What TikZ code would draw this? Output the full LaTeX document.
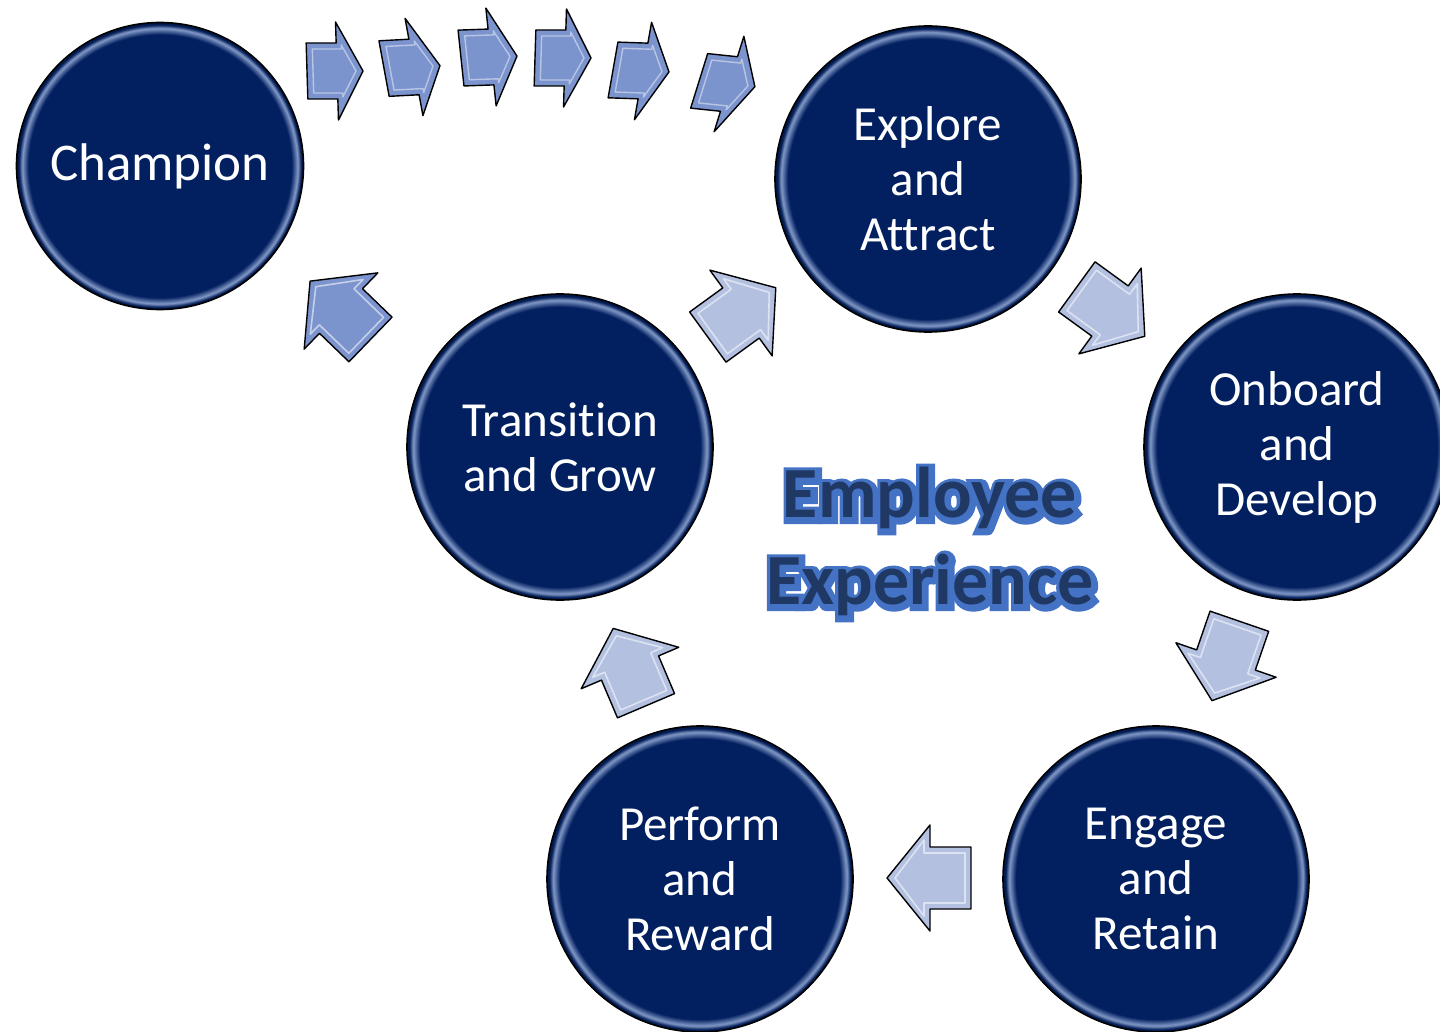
\documentclass[tikz,border=0pt]{standalone}
\usepackage{fontspec}
\setmainfont{Carlito}[Ligatures={CommonOff,ContextualOff}, RawFeature={-liga;-clig;-calt}]
\newfontfamily\titleedge{Carlito Bold}[FakeBold=14, Ligatures={CommonOff,ContextualOff}]
\usetikzlibrary{positioning}
\definecolor{navy}{HTML}{022060}
\definecolor{rim}{HTML}{A3B8E2}
\definecolor{pale}{HTML}{B3C0E0}
\definecolor{cobalt}{HTML}{7C94CE}
\definecolor{inkblue}{HTML}{1F3864}
\definecolor{outl}{HTML}{4472C4}
\pgfdeclareradialshading{bead}{\pgfpoint{0bp}{0bp}}{%
  color(0bp)=(navy); color(22.9bp)=(navy); color(24bp)=(rim!80!navy);
  color(24.6bp)=(navy!90!black); color(25bp)=(navy!75!black); color(50bp)=(navy!75!black)}
\tikzset{
  pics/bigarr/.style={code={
    \path[draw=black, line width=1.4pt, line join=round, fill=#1]
      (-41,-31) -- (0,-31) -- (0,-53) -- (43,0) -- (0,53) -- (0,31) -- (-41,31) -- cycle;
    \draw[white, opacity=.55, line width=1.6pt, line join=round]
      (-35,-25) -- (6,-25) -- (6,-38) -- (35,0) -- (6,38) -- (6,25) -- (-35,25) -- cycle;
  }},
  pics/smallarr/.style={code={
    \path[draw=black, line width=1.4pt, line join=round, fill=#1]
      (-30,-28) -- (0,-28) -- (0,-49) -- (26,0) -- (0,49) -- (0,28) -- (-30,28) -- cycle;
    \draw[white, opacity=.45, line width=1.4pt, line join=round]
      (-24,-22) -- (5,-22) -- (5,-26) -- (19,0) -- (5,26) -- (5,22) -- (-24,22) -- cycle;
  }},
}
\begin{document}
\begin{tikzpicture}[x=1pt, y=-1pt,
    stage/.style={circle, draw=black, line width=1.6pt, shading=bead, minimum size=306pt,
      inner sep=0pt, text=white, align=center, font=\fontsize{49}{55}\selectfont},
    titletext/.style={font=\bfseries\fontsize{72}{87}\selectfont, align=center, inner sep=0pt}]
\useasboundingbox (0,0) rectangle (1440,1032);

% stages
\node[stage, minimum size=287pt, font=\fontsize{53}{60}\selectfont] (champion) at (160,166) {Champion};
\node[stage] (explore) at (928,179) {Explore\\and\\Attract};
\node[stage] (onboard) at (1297,447) {Onboard\\and\\Develop};
\node[stage] (engage) at (1156,879) {Engage\\and\\Retain};
\node[stage] (perform) at (700,879) {Perform\\and\\Reward};
\node[stage] (transition) at (560,447) {Transition\\and Grow};

% block arrows round the cycle
\pic[rotate=-36] at (1110,311) {bigarr=pale};
\pic[rotate=-109] at (1226,660) {bigarr=pale};
\pic[rotate=180] at (930,878) {bigarr=pale};
\pic[rotate=113] at (630,668) {bigarr=pale};
\pic[rotate=36] at (741,313) {bigarr=pale};
\pic[rotate=136] at (341,311) {bigarr=cobalt};
\foreach \x/\y/\r/\s in {337/71/0/-.03, 414/67/3/-.13, 491/57/2/-.07, 565/58/0/.03, 643/71/-2/.14, 729/84/-6/.2}
  \pic[rotate=\r, xslant=\s] at (\x,\y) {smallarr=cobalt};

% title, blue edge under dark letters
\coordinate (titlepos) at (930,541);
\node[titletext, font=\titleedge\fontsize{72}{87}\selectfont, text=outl] at ([shift={(1.5,2)}]titlepos) {Employee\\Experience};
\node[titletext, text=inkblue] (exptitle) at (titlepos) {Employee\\Experience};
\end{tikzpicture}
\end{document}
